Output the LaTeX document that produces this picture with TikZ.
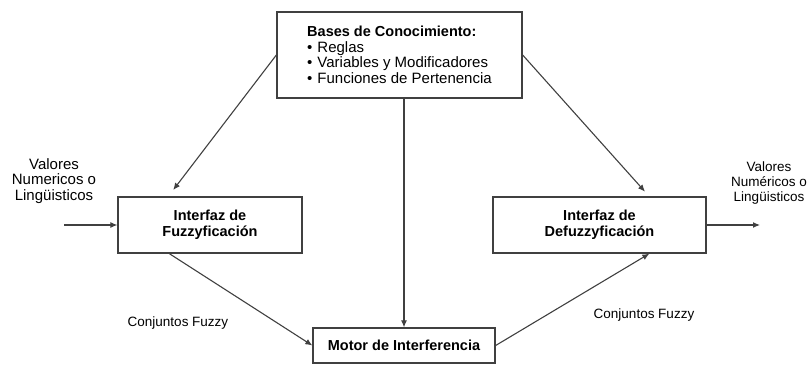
\documentclass[tikz,border=0pt]{standalone}
\usepackage{fontspec}
\setmainfont{Liberation Sans}
\usetikzlibrary{arrows.meta,calc}

\tikzset{
  box/.style={draw=black!75, line width=1.3pt, align=center, font=\bfseries\fontsize{14.5}{16}\selectfont},
  arr/.style={draw=black!75, line width=1.1pt, -{Latex[length=7pt,width=6pt]}},
  lbl/.style={align=center, font=\fontsize{13.5}{15}\selectfont}
}

\begin{document}
\begin{tikzpicture}[x=1pt,y=-1pt]
				\useasboundingbox (0,0) rectangle (809,366);
				
				% Boxes
				\node[box, minimum width=245, minimum height=86, align=left, font=\bfseries\fontsize{14.5}{15.5}\selectfont] (kb) at (399.5,55)
					{Bases de Conocimiento:\\
					\mdseries\fontsize{15}{15.5}\selectfont\textbullet\hspace{5pt}Reglas\\
					\mdseries\fontsize{15}{15.5}\selectfont\textbullet\hspace{5pt}Variables y Modificadores\\
					\mdseries\fontsize{15}{15.5}\selectfont\textbullet\hspace{5pt}Funciones de Pertenencia};
				\node[box, minimum width=184, minimum height=56] (fuzz) at (210,225) {Interfaz de\\Fuzzyficación};
				\node[box, minimum width=213, minimum height=56] (defuzz) at (599.5,225) {Interfaz de\\Defuzzyficación};
				\node[box, minimum width=182, minimum height=35] (motor) at (404,345.5) {Motor de Interferencia};
				
				% Labels
				\node[lbl, font=\fontsize{15}{15.5}\selectfont] (inlbl) at (54,181) {Valores\\Numericos o\\Lingüisticos};
				\node[lbl] (outlbl) at (769,183) {Valores\\Numéricos o\\Lingüisticos};
				\node[lbl] (cf1) at (178,323) {Conjuntos Fuzzy};
				\node[lbl] (cf2) at (644,315) {Conjuntos Fuzzy};
				
				% Free ends
				\coordinate (in) at (64,225);
				\coordinate (out) at (760,225);
				
				% Arrows
				\draw[arr] (in) -- (fuzz.west);
				\draw[arr] (defuzz.east) -- (out);
				\draw[arr, shorten >=8pt] (kb.west) -- ($(fuzz.north west)+(51,0)$);
				\draw[arr, shorten >=8pt] (kb.east) -- ($(defuzz.south west)+(158,-56)$);
				\draw[arr] (kb.south -| motor.north) -- (motor.north);
				\draw[arr] ($(fuzz.south west)+(52,0)$) -- (motor.west);
				\draw[arr] (motor.east) -- ($(defuzz.south west)+(157,0)$);
			\end{tikzpicture}
\end{document}
